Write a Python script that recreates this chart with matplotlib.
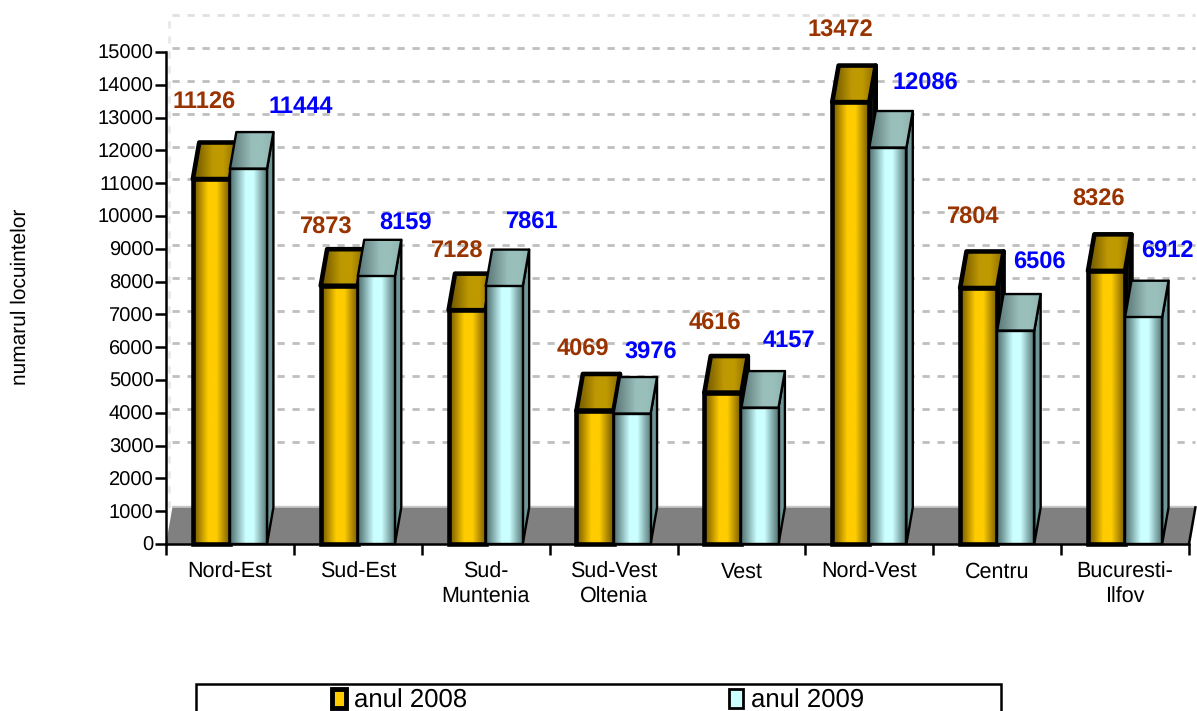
import numpy as np
import matplotlib
matplotlib.use('Agg')
import matplotlib.pyplot as plt
from matplotlib.colors import LinearSegmentedColormap
from matplotlib.patches import Polygon, Patch, Rectangle

plt.rcParams['font.family'] = ['Liberation Sans', 'DejaVu Sans']
plt.rcParams['text.hinting'] = 'none'

regions = ['Nord-Est', 'Sud-Est', 'Sud-\nMuntenia', 'Sud-Vest\nOltenia', 'Vest', 'Nord-Vest', 'Centru', 'Bucuresti-\nIlfov']
values_2008 = [11126, 7873, 7128, 4069, 4616, 13472, 7804, 8326]
values_2009 = [11444, 8159, 7861, 3976, 4157, 12086, 6506, 6912]
y_ticks = list(range(0, 16000, 1000))

# label offsets from the top of each bar, in pixels
offsets_2008 = [(-7, 77), (-13, 58), (-10, 59), (-12, 61), (-8, 69), (-10, 72), (-5, 70), (-8, 71)]
offsets_2009 = [(52, 62), (29, 53), (28, 64), (19, 61), (29, 67), (38, 64), (24, 68), (24, 66)]

W, H = 1197, 711
bar_w = 0.29
depth_x = 0.05
depth_y = 1115

front_2008 = LinearSegmentedColormap.from_list('f08', [(0, '#6f5400'), (0.4, '#ffcc00'), (0.62, '#ffcc00'), (1, '#6f5400')])
top_2008 = LinearSegmentedColormap.from_list('t08', [(0, '#6b5200'), (0.45, '#bf9900'), (0.7, '#bf9900'), (1, '#8a6a00')])
front_2009 = LinearSegmentedColormap.from_list('f09', [(0, '#4f7070'), (0.42, '#ccffff'), (0.62, '#ccffff'), (1, '#4f7070')])
top_2009 = LinearSegmentedColormap.from_list('t09', [(0, '#587575'), (0.5, '#99bfbb'), (0.75, '#99bfbb'), (1, '#8fb3b0')])
ramp = np.linspace(0, 1, 64).reshape(1, -1)


def draw_bar(ax, x0, value, front_cmap, top_cmap, side_color, lw, z):
    x1 = x0 + bar_w
    # side
    side = [(x1, 0), (x1 + depth_x, depth_y), (x1 + depth_x, value + depth_y), (x1, value)]
    ax.add_patch(Polygon(side, closed=True, facecolor=side_color, edgecolor='black', linewidth=lw, zorder=z, clip_on=False, joinstyle='round'))
    # top
    top = [(x0, value), (x0 + depth_x, value + depth_y), (x1 + depth_x, value + depth_y), (x1, value)]
    poly = Polygon(top, closed=True, facecolor='none', edgecolor='black', linewidth=lw, zorder=z + 0.2, clip_on=False, joinstyle='round')
    ax.add_patch(poly)
    img = ax.imshow(ramp, cmap=top_cmap, extent=(x0, x1 + depth_x, value, value + depth_y), aspect='auto', zorder=z + 0.1, clip_on=True)
    img.set_clip_path(poly)
    # front
    bars = ax.bar(x0, value, bar_w, align='edge', facecolor='none', edgecolor='black', linewidth=lw, zorder=z + 0.4, clip_on=False)
    img = ax.imshow(ramp, cmap=front_cmap, extent=(x0, x1, 0, value), aspect='auto', zorder=z + 0.3)
    img.set_clip_path(bars[0])


fig = plt.figure(figsize=(W / 100, H / 100), dpi=100)
ax = fig.add_axes([166 / W, 1 - 544 / H, 1023 / W, 492 / H])

# back wall gridlines
for t in y_ticks[2:]:
    c = '#e0e0e0' if t == 15000 else '#bfbfbf'
    ax.plot([depth_x, 8 + depth_x], [t + depth_y, t + depth_y], color=c, linewidth=2, linestyle=(0, (2.6, 2.8)), zorder=1, clip_on=False)
ax.plot([0.02, 0.02], [1100, 15000 + depth_y], color='#e8e8e8', linewidth=2, linestyle=(0, (2.6, 2.8)), zorder=1, clip_on=False)

# floor
floor = [(0, 0), (depth_x, depth_y), (8 + depth_x, depth_y), (8, 0)]
ax.add_patch(Polygon(floor, closed=True, facecolor='#808080', edgecolor='none', zorder=2, clip_on=False))
ax.plot([depth_x, 8 + depth_x], [depth_y + 40, depth_y + 40], color='#c8c8c8', linewidth=1, zorder=2, clip_on=False)
ax.plot([8, 8 + depth_x], [0, depth_y], color='black', linewidth=1.8, zorder=2.5, clip_on=False)

for i in range(len(regions)):
    x_left = i + 0.5 - bar_w
    draw_bar(ax, x_left, values_2008[i], front_2008, top_2008, '#111111', 3.3, 3 + i)
    draw_bar(ax, x_left + bar_w, values_2009[i], front_2009, top_2009, '#6f9696', 1.7, 3.5 + i)
    ax.annotate(str(values_2008[i]), (x_left + bar_w / 2, values_2008[i]), xytext=offsets_2008[i], textcoords='offset pixels',
                ha='center', va='center', color='#993300', fontsize=17, fontweight='bold', zorder=20, annotation_clip=False)
    ax.annotate(str(values_2009[i]), (x_left + bar_w * 1.5, values_2009[i]), xytext=offsets_2009[i], textcoords='offset pixels',
                ha='center', va='center', color='#0000ff', fontsize=17, fontweight='bold', zorder=20, annotation_clip=False)

ax.set_xlim(0, 8)
ax.set_ylim(0, 15000)
ax.set_yticks(y_ticks)
ax.set_xticks(range(9))
ax.set_xticklabels([])
ax.set_xticks(np.arange(8) + 0.5, regions, minor=True)
ax.tick_params(axis='x', which='minor', length=0, labelsize=15.5, pad=13)
for lab in ax.get_xticklabels(minor=True):
    lab.set_linespacing(1.3)
ax.tick_params(axis='x', which='major', length=8, width=1.8)
ax.tick_params(axis='y', length=8, width=1.8, labelsize=14.5, pad=1)
ax.set_axisbelow(False)
for s in ['top', 'right']:
    ax.spines[s].set_visible(False)
for s in ['left', 'bottom']:
    ax.spines[s].set_linewidth(1.8)
    ax.spines[s].set_zorder(15)

fig.text(20 / W, 1 - 297 / H, 'numarul locuintelor', rotation=90, ha='center', va='center', fontsize=15)

# legend box runs off the bottom of the picture
fig.add_artist(Rectangle((196 / W, -0.02), 805 / W, 1 - 684 / H + 0.02, transform=fig.transFigure, facecolor='white', edgecolor='black', linewidth=1.8))
handles = [Patch(facecolor='#ffcc00', edgecolor='black', linewidth=3.5), Patch(facecolor='#ccffff', edgecolor='black', linewidth=2)]
fig.legend(handles, ['anul 2008', 'anul 2009'], ncol=2, loc='center', bbox_to_anchor=(598 / W, 1 - 701 / H), frameon=False,
           fontsize=18.5, handlelength=0.55, handleheight=0.75, handletextpad=0.3, columnspacing=10.2, borderpad=0)

fig.savefig('out.png', dpi=100)
